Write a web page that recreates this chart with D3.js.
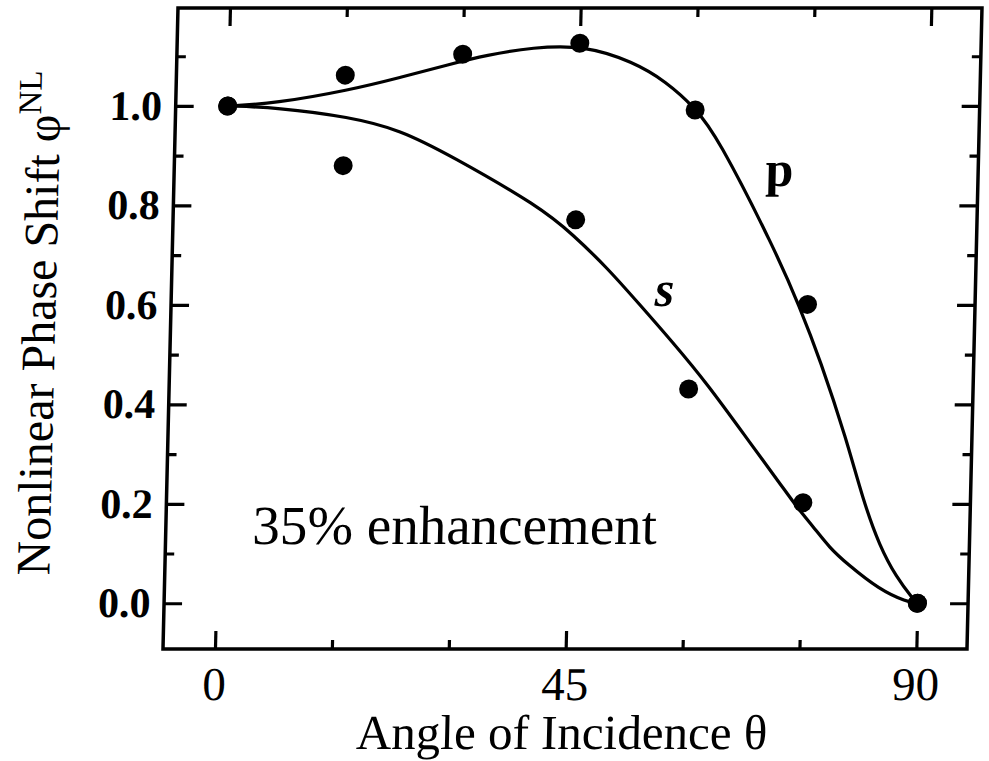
<!DOCTYPE html>
<html>
<head>
<meta charset="utf-8">
<script src="https://cdn.jsdelivr.net/npm/d3@7"></script>
<style>
  html, body { margin: 0; padding: 0; background: #fff; }
  svg { display: block; }
  text { font-family: "Liberation Serif", "Times New Roman", serif; fill: #000; }
</style>
</head>
<body>
<svg id="chart" width="989" height="761"></svg>
<script>
// ---- data ----
const pTheta = [0, 15, 30, 45, 60, 75, 90];
const pValue = [1.0, 1.062, 1.104, 1.126, 0.992, 0.601, 0.0];
const sTheta = [0, 15, 45, 60, 75, 90];
const sValue = [1.0, 0.88, 0.771, 0.431, 0.202, 0.0];

// fitted curves
const pCurveTheta = [0, 6, 15.6, 22, 28.4, 33, 39, 45.5, 51.9, 56.2, 60, 62.8, 70.7, 74, 76.8, 80.4, 82.7, 85, 87.2, 89.5, 90];
const pCurveValue = [1.0, 1.005, 1.032, 1.057, 1.084, 1.102, 1.118, 1.122, 1.089, 1.049, 0.996, 0.942, 0.71, 0.596, 0.489, 0.33, 0.208, 0.114, 0.053, 0.007, 0.0];
const sCurveTheta = [0, 6.3, 15.7, 22.2, 28.7, 40.4, 44.7, 49.1, 53.5, 57.8, 62.3, 68.4, 72, 74.2, 76.4, 78.6, 80.8, 85.1, 88.6, 90];
const sCurveValue = [1.0, 0.997, 0.978, 0.952, 0.901, 0.797, 0.741, 0.676, 0.600, 0.525, 0.443, 0.315, 0.241, 0.194, 0.154, 0.111, 0.08, 0.027, 0.003, 0.0];

const xMajorTicks = [0, 45, 90];
const xMinorTicks = [15, 30, 60, 75];
const yMajorTicks = [0.0, 0.2, 0.4, 0.6, 0.8, 1.0];
const yMinorTicks = [0.1, 0.3, 0.5, 0.7, 0.9, 1.1];

const xTitle = "Angle of Incidence \u03B8";
const yTitle = "Nonlinear Phase Shift \u03C6";
const ySup = "NL";
const annotation = "35% enhancement";

// ---- layout ----
const svg = d3.select("#chart");
const L = 170.5, R = 974.5, T = 8, B = 649;
const x = d3.scaleLinear().domain([-6.67, 96.5]).range([L, R]);
const y = d3.scaleLinear().domain([-0.092, 1.197]).range([B, T]);

const g = svg.append("g")
  .attr("transform", "translate(0,328) skewX(-1.34) translate(0,-328)");

// frame
g.append("rect").attr("x", L).attr("y", T).attr("width", R - L).attr("height", B - T)
  .attr("fill", "none").attr("stroke", "#000").attr("stroke-width", 3.5);

// axes with inward ticks
const major = 18, minor = 9;
function addAxis(axisFn, scale, ticks, len, transform) {
  const a = g.append("g").attr("transform", transform)
    .call(axisFn(scale).tickValues(ticks).tickSize(len).tickFormat(""));
  a.select(".domain").remove();
  a.selectAll(".tick line").attr("stroke", "#000").attr("stroke-width", 3.2);
  return a;
}
addAxis(d3.axisTop, x, xMajorTicks, major, `translate(0,${B})`);
addAxis(d3.axisTop, x, xMinorTicks, minor, `translate(0,${B})`);
addAxis(d3.axisBottom, x, xMajorTicks, major, `translate(0,${T})`);
addAxis(d3.axisBottom, x, xMinorTicks, minor, `translate(0,${T})`);
addAxis(d3.axisRight, y, yMajorTicks, major, `translate(${L},0)`);
addAxis(d3.axisRight, y, yMinorTicks, minor, `translate(${L},0)`);
addAxis(d3.axisLeft, y, yMajorTicks, major, `translate(${R},0)`);
addAxis(d3.axisLeft, y, yMinorTicks, minor, `translate(${R},0)`);

// tick labels
g.selectAll(".xlab").data(xMajorTicks).enter().append("text")
  .attr("x", d => x(d)).attr("y", 700)
  .attr("text-anchor", "middle").attr("font-size", 47)
  .text(d => d);
g.selectAll(".ylab").data(yMajorTicks).enter().append("text")
  .attr("x", 157).attr("y", d => y(d) + 14)
  .attr("text-anchor", "end").attr("font-size", 42).attr("font-weight", "bold")
  .text(d => d3.format(".1f")(d));

// titles
g.append("text").attr("x", (x(0) + x(90)) / 2 - 2).attr("y", 749)
  .attr("text-anchor", "middle").attr("font-size", 49).text(xTitle);
const yt = g.append("text")
  .attr("transform", `translate(55,${323}) rotate(-90)`)
  .attr("text-anchor", "middle").attr("font-size", 48);
yt.append("tspan").text(yTitle);
yt.append("tspan").attr("dy", -19).attr("font-size", 33).text(ySup);

// curves
const line = d3.line().x(d => x(d[0])).y(d => y(d[1])).curve(d3.curveBasis);
g.append("path").datum(d3.zip(pCurveTheta, pCurveValue)).attr("d", line)
  .attr("fill", "none").attr("stroke", "#000").attr("stroke-width", 3.2);
g.append("path").datum(d3.zip(sCurveTheta, sCurveValue)).attr("d", line)
  .attr("fill", "none").attr("stroke", "#000").attr("stroke-width", 3.2);

// points
g.selectAll(".pp").data(d3.zip(pTheta, pValue)).enter().append("circle")
  .attr("cx", d => x(d[0])).attr("cy", d => y(d[1])).attr("r", 9.5).attr("fill", "#000");
g.selectAll(".sp").data(d3.zip(sTheta, sValue)).enter().append("circle")
  .attr("cx", d => x(d[0])).attr("cy", d => y(d[1])).attr("r", 9.5).attr("fill", "#000");

// annotations
g.append("text").attr("x", 762).attr("y", 186).attr("font-size", 50).attr("font-weight", "bold").text("p");
g.append("text").attr("x", 654).attr("y", 306).attr("font-size", 50).attr("font-weight", "bold").attr("font-style", "italic").text("s");
g.append("text").attr("x", 257).attr("y", 544).attr("font-size", 55).text(annotation);
</script>
</body>
</html>
